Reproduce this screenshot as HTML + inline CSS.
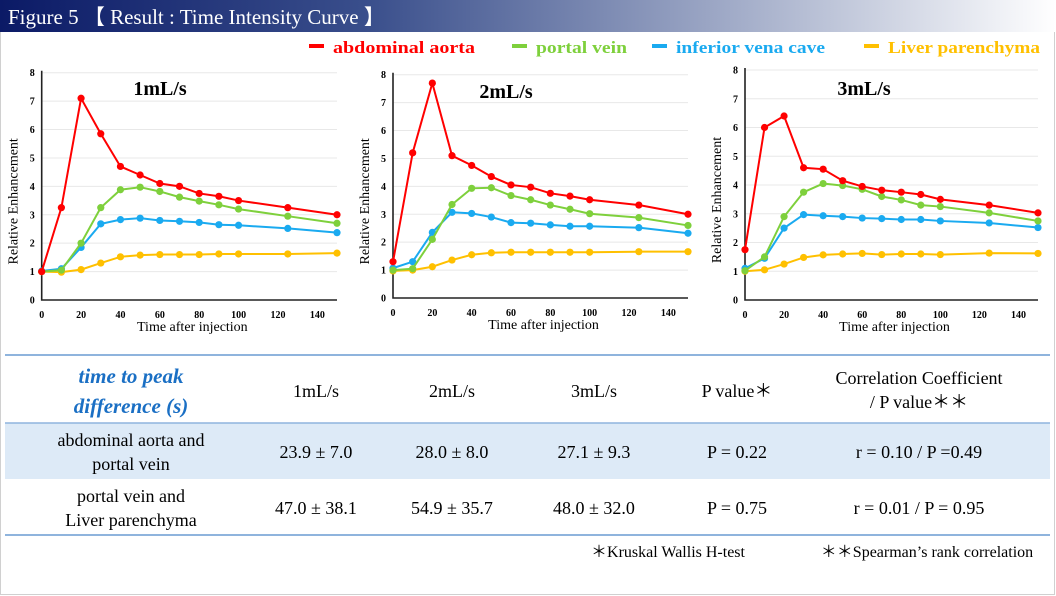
<!DOCTYPE html>
<html><head><meta charset="utf-8"><style>
html,body{margin:0;padding:0;background:#fff;}
svg{display:block;font-family:"Liberation Serif",serif;}
</style></head><body>
<svg id="root" width="1056" height="596" viewBox="0 0 1056 596" xmlns="http://www.w3.org/2000/svg">
<defs><linearGradient id="hg" x1="0" x2="1" y1="0" y2="0"><stop offset="0" stop-color="#0b1a66"/><stop offset="0.35" stop-color="#3a4f8c"/><stop offset="0.7" stop-color="#a3adc9"/><stop offset="1" stop-color="#ffffff"/></linearGradient></defs>
<rect x="0.5" y="0.5" width="1054" height="594" fill="#fff" stroke="#d0d0d0"/>
<rect x="0" y="0" width="1056" height="32" fill="url(#hg)"/>
<text x="8" y="24" fill="#fff" font-size="21">Figure 5 【 Result : Time Intensity Curve 】</text>
<g id="legend" font-weight="bold" font-size="17"></g>
<g id="charts"></g>
<g font-size="18" text-anchor="middle">
<rect x="5" y="423" width="1045" height="56" fill="#ddeaf7"/>
<line x1="5" y1="355" x2="1050" y2="355" stroke="#8fb4dd" stroke-width="2"/>
<line x1="5" y1="423" x2="1050" y2="423" stroke="#8fb4dd" stroke-width="1.5"/>
<line x1="5" y1="535" x2="1050" y2="535" stroke="#8fb4dd" stroke-width="2"/>
<text x="131" y="383" fill="#1a6fc4" font-weight="bold" font-style="italic" font-size="21">time to peak</text>
<text x="131" y="413" fill="#1a6fc4" font-weight="bold" font-style="italic" font-size="21">difference (s)</text>
<text x="316" y="397">1mL/s</text>
<text x="452" y="397">2mL/s</text>
<text x="594" y="397">3mL/s</text>
<text x="737" y="397">P value＊</text>
<text x="919" y="384">Correlation Coefficient</text>
<text x="919" y="408">/ P value＊＊</text>
<text x="131" y="446">abdominal aorta and</text>
<text x="131" y="470">portal vein</text>
<text x="316" y="458">23.9 ± 7.0</text>
<text x="452" y="458">28.0 ± 8.0</text>
<text x="594" y="458">27.1 ± 9.3</text>
<text x="737" y="458">P = 0.22</text>
<text x="919" y="458">r = 0.10 / P =0.49</text>
<text x="131" y="502">portal vein and</text>
<text x="131" y="526">Liver parenchyma</text>
<text x="316" y="514">47.0 ± 38.1</text>
<text x="452" y="514">54.9 ± 35.7</text>
<text x="594" y="514">48.0 ± 32.0</text>
<text x="737" y="514">P = 0.75</text>
<text x="919" y="514">r = 0.01 / P = 0.95</text>
<text x="668" y="557" font-size="16">＊Kruskal Wallis H-test</text>
<text x="927" y="557" font-size="16">＊＊Spearman’s rank correlation</text>
</g>
</svg>
<script>
const times = [0,10,20,30,40,50,60,70,80,90,100,125,150];
const seriesNames = ["abdominal aorta","portal vein","inferior vena cave","Liver parenchyma"];
const seriesColors = ["#ff0000","#7ed03c","#1aaaf0","#ffc000"];
const xTicks = [0,20,40,60,80,100,120,140];
const yTicks = [0,1,2,3,4,5,6,7,8];
const aorta1 = [1.0,3.25,7.1,5.85,4.7,4.4,4.1,4.0,3.75,3.65,3.5,3.25,3.0];
const portal1 = [1.0,1.05,2.0,3.25,3.88,3.97,3.82,3.62,3.48,3.35,3.2,2.95,2.7];
const ivc1 = [1.02,1.1,1.85,2.68,2.83,2.88,2.8,2.77,2.73,2.65,2.63,2.52,2.37];
const liver1 = [1.0,0.98,1.07,1.3,1.52,1.58,1.6,1.6,1.6,1.62,1.62,1.62,1.65];
const aorta2 = [1.3,5.2,7.7,5.1,4.75,4.35,4.05,3.97,3.75,3.65,3.52,3.33,3.0];
const portal2 = [1.0,1.05,2.1,3.35,3.93,3.95,3.67,3.52,3.33,3.18,3.02,2.88,2.6];
const ivc2 = [1.07,1.3,2.35,3.07,3.03,2.9,2.7,2.68,2.62,2.57,2.57,2.52,2.32];
const liver2 = [0.97,1.0,1.12,1.36,1.55,1.62,1.64,1.64,1.64,1.64,1.64,1.66,1.66];
const aorta3 = [1.75,6.0,6.4,4.6,4.55,4.15,3.95,3.82,3.75,3.67,3.5,3.3,3.03];
const portal3 = [1.02,1.5,2.9,3.75,4.05,3.98,3.85,3.6,3.48,3.3,3.25,3.03,2.75];
const ivc3 = [1.1,1.45,2.5,2.97,2.93,2.9,2.85,2.83,2.8,2.8,2.75,2.68,2.52];
const liver3 = [1.0,1.05,1.25,1.48,1.57,1.6,1.62,1.58,1.6,1.6,1.58,1.63,1.62];
const chartTitles = ["1mL/s","2mL/s","3mL/s"];

const NS="http://www.w3.org/2000/svg";
function mk(tag, attrs, parent){const e=document.createElementNS(NS,tag);for(const k in attrs)e.setAttribute(k,attrs[k]);parent.appendChild(e);return e;}

// legend
const lg=document.getElementById('legend');
const legX=[309,512,652,864];
const legW=[142,91,149,152];
seriesNames.forEach((n,i)=>{
  const r=mk('rect',{x:legX[i],y:44,width:15,height:4,fill:seriesColors[i]},lg);
  
  
  const t=mk('text',{x:legX[i]+24,y:53,fill:seriesColors[i],textLength:legW[i],lengthAdjust:'spacingAndGlyphs'},lg);
  
  
  t.textContent=n;
});

const layouts=[
  {x0:41.7,x1:337,y0:300,y8:72.7,title:[160,87]},
  {x0:393,x1:688,y0:298,y8:74.7,title:[506,90]},
  {x0:745,x1:1038,y0:300,y8:70,title:[864,87]}
];
const data=[[aorta1,portal1,ivc1,liver1],[aorta2,portal2,ivc2,liver2],[aorta3,portal3,ivc3,liver3]];
const charts=document.getElementById('charts');
layouts.forEach((L,ci)=>{
  const g=mk('g',{},charts);
  
  
  const xs=v=>L.x0+(L.x1-L.x0)*v/150;
  const ys=v=>L.y0-(L.y0-L.y8)*v/8;
  yTicks.forEach(v=>{
    if(v>0){const gl=mk('line',{x1:L.x0,x2:L.x1,y1:ys(v),y2:ys(v),stroke:'#e8e8e8','stroke-width':1},g);
    
    }
    const t=mk('text',{x:L.x0-7,y:ys(v)+3.5,'font-size':10,'font-weight':'bold','text-anchor':'end'},g);
    
    
    t.textContent=v;
  });
  xTicks.forEach(v=>{
    const t=mk('text',{x:xs(v),y:L.y0+18,'font-size':10,'font-weight':'bold','text-anchor':'middle'},g);
    
    
    t.textContent=v;
  });
  const ax=mk('path',{d:`M${L.x0} ${L.y8-2}V${L.y0}H${L.x1}`,stroke:'#222','stroke-width':1.6,fill:'none'},g);
  
  
  const xt=mk('text',{x:(L.x0+L.x1)/2+3,y:L.y0+31,'font-size':14,'text-anchor':'middle'},g);
  
  
  xt.textContent='Time after injection';
  const yc=(L.y0+L.y8)/2+15;
  const yt=mk('text',{x:L.x0-24,y:yc,'font-size':14,'text-anchor':'middle',transform:`rotate(-90 ${L.x0-24} ${yc})`},g);
  
  
  yt.textContent='Relative Enhancement';
  const tt=mk('text',{x:L.title[0],y:L.title[1]+8,'font-size':20,'font-weight':'bold','text-anchor':'middle'},g);
  
  
  tt.textContent=chartTitles[ci];
  [3,2,1,0].forEach(si=>{
    const vals=data[ci][si];
    const sg=mk('g',{},g);
    
    
    const pts=times.map((t,i)=>xs(t)+','+ys(vals[i])).join(' ');
    mk('polyline',{points:pts,fill:'none',stroke:seriesColors[si],'stroke-width':2},sg);
    times.forEach((t,i)=>{
      const c=mk('circle',{cx:xs(t),cy:ys(vals[i]),r:3.6,fill:seriesColors[si]},sg);
      
      
    });
  });
});
</script>
</body></html>
